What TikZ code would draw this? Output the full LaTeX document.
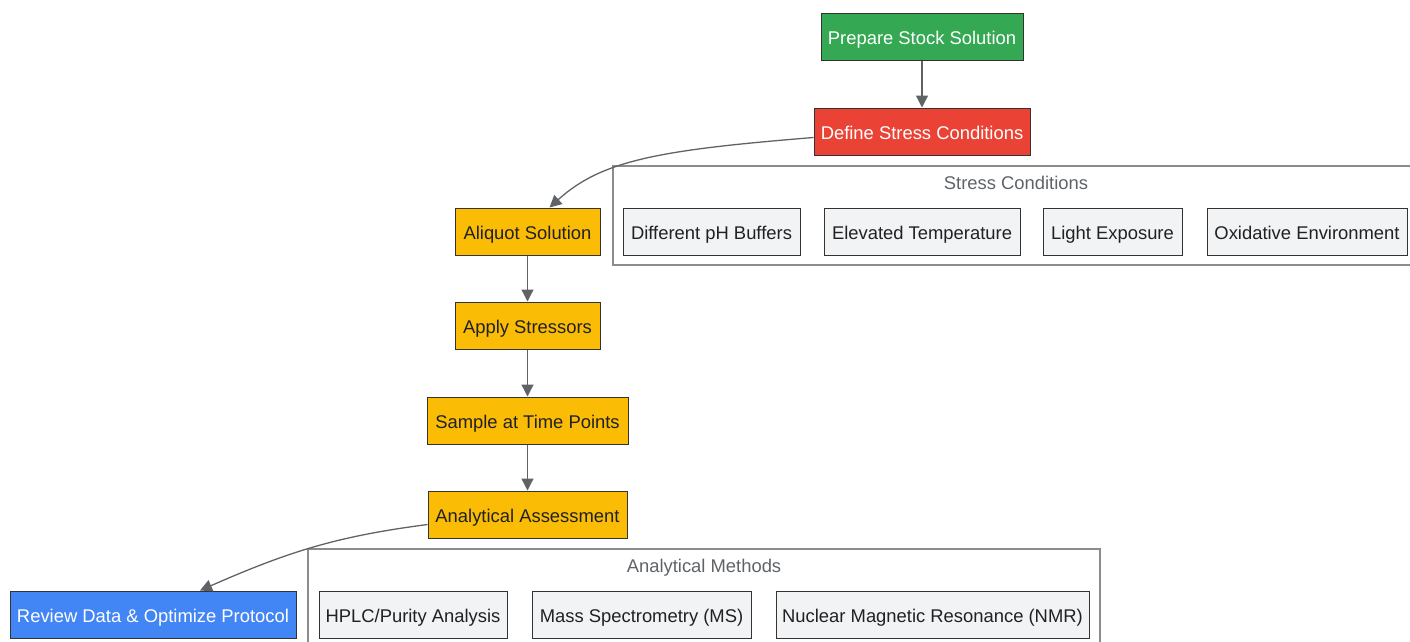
\documentclass[tikz,border=0pt]{standalone}
\usepackage{fontspec}
\setmainfont{Liberation Sans}
\usetikzlibrary{arrows.meta}
\definecolor{cgreen}{HTML}{34A853}
\definecolor{cred}{HTML}{EA4335}
\definecolor{cyellow}{HTML}{FBBC05}
\definecolor{cblue}{HTML}{4285F4}
\definecolor{cgray}{HTML}{F1F3F4}
\definecolor{ctext}{HTML}{202124}
\definecolor{cedge}{HTML}{5F6368}
\definecolor{cborder}{HTML}{333333}
\definecolor{cclus}{HTML}{8A8C8E}
\tikzset{
  box/.style={draw=cborder, line width=1pt, inner sep=0pt, align=center,
    text height=15pt, text depth=0pt,
    font=\fontsize{18.4}{22}\selectfont},
  green/.style={box, fill=cgreen, text=white},
  red/.style={box, fill=cred, text=white},
  yel/.style={box, fill=cyellow, text=ctext},
  blu/.style={box, fill=cblue, text=white},
  gry/.style={box, fill=cgray, text=ctext},
  clus/.style={draw=cclus, line width=1.2pt},
  ctitle/.style={text=cedge, font=\fontsize{18.4}{22}\selectfont, inner sep=0pt,
    text height=15pt, text depth=0pt},
  edge/.style={draw=cedge, line width=1.3pt, -{Triangle[length=12pt,width=12pt]}}
}
\begin{document}
\begin{tikzpicture}[x=1pt,y=-1pt]
\useasboundingbox (0,0) rectangle (1410,642);
% clusters
\draw[clus] (1420,166) -- (613,166) -- (613,265) -- (1420,265);
\node[ctitle] (sct) at (1016,182) {Stress Conditions};
\draw[clus] (308,650) -- (308,549) -- (1100,549) -- (1100,650);
\node[ctitle] (amt) at (704,565) {Analytical Methods};
% main nodes
\node[green, minimum width=202pt, minimum height=47pt] (prep) at (922,37) {Prepare Stock Solution};
\node[red, minimum width=216pt, minimum height=47pt] (def) at (922,131.5) {Define Stress Conditions};
\node[yel, minimum width=145pt, minimum height=47pt] (aliq) at (527.5,231.5) {Aliquot Solution};
\node[yel, minimum width=145pt, minimum height=47pt] (appl) at (527.5,325.5) {Apply Stressors};
\node[yel, minimum width=201pt, minimum height=47pt] (samp) at (527.5,420.5) {Sample at Time Points};
\node[yel, minimum width=199pt, minimum height=47pt] (anal) at (527.5,514.5) {Analytical Assessment};
\node[blu, minimum width=286pt, minimum height=47pt] (rev) at (153,614.5) {Review Data \& Optimize Protocol};
% stress conditions
\node[gry, minimum width=177pt, minimum height=47pt] (ph) at (711.5,231.5) {Different pH Buffers};
\node[gry, minimum width=196pt, minimum height=47pt] (temp) at (922,231.5) {Elevated Temperature};
\node[gry, minimum width=139pt, minimum height=47pt] (light) at (1112.5,231.5) {Light Exposure};
\node[gry, minimum width=200pt, minimum height=47pt] (oxi) at (1307,231.5) {Oxidative Environment};
% analytical methods
\node[gry, minimum width=188pt, minimum height=47pt] (hplc) at (413,614.5) {HPLC/Purity Analysis};
\node[gry, minimum width=219pt, minimum height=47pt] (ms) at (641.5,614.5) {Mass Spectrometry (MS)};
\node[gry, minimum width=313pt, minimum height=47pt] (nmr) at (932.5,614.5) {Nuclear Magnetic Resonance (NMR)};
% edges
\draw[edge] (prep) -- (def);
\draw[edge] ([yshift=-6pt]def.west) .. controls (660,150) and (602,160) .. ([xshift=22pt]aliq.north);
\draw[edge] (aliq) -- (appl);
\draw[edge] (appl) -- (samp);
\draw[edge] (samp) -- (anal);
\draw[edge] ([yshift=-10pt]anal.west) .. controls (340,536) and (292,550) .. ([xshift=47pt]rev.north);
\end{tikzpicture}
\end{document}
